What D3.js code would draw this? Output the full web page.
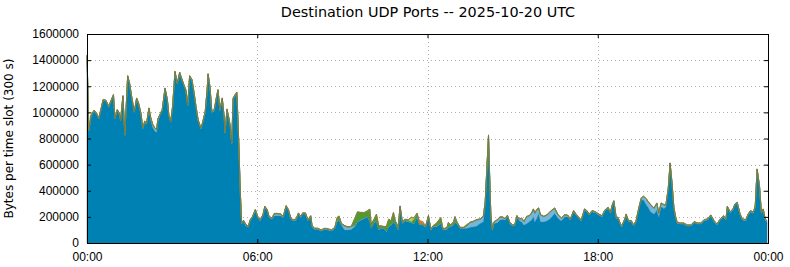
<!DOCTYPE html>
<html lang="en">
<head>
<meta charset="utf-8">
<title>Destination UDP Ports</title>
<script src="https://d3js.org/d3.v7.min.js"></script>
<style>
  body{margin:0;background:#fff;font-family:"DejaVu Sans",sans-serif;}
  .axis text{font-size:12px;fill:#000;}
  .grid line{stroke:#b0b0b0;stroke-dasharray:1,3;}
</style>
</head>
<body>
<div id="chart"></div>
<script>
// minutes after midnight (UTC) of each sample
var minutes = [0,4,9,15,20,25,30,34,40,46,50,56,59,64,68,71,76,80,86,90,95,100,105,109,114,118,122,126,131,135,139,143,147,150,154,159,165,170,173,177,181,186,191,196,200,205,209,213,217,222,226,230,235,
  241,245,250,254,256,260,264,269,274,277,281,286,290,292,296,300,303,306,309,314,317,321,324,327,331,336,341,345,350,356,361,366,372,376,381,385,391,396,403,410,415,421,426,431,436,442,447,452,456,462,467,
  473,476,481,488,495,503,510,517,524,529,533,538,545,552,559,566,572,580,587,593,598,601,607,612,617,622,628,633,638,643,648,652,658,662,667,672,679,686,691,698,703,
  711,716,722,727,732,739,748,753,761,764,769,775,778,783,789,796,803,810,817,824,831,838,842,849,851,854,857,861,868,873,879,884,889,894,900,905,909,914,919,924,930,935,940,944,
  947,951,955,959,966,973,980,989,996,1003,1010,1017,1022,1029,1034,1040,1045,1052,1057,1062,1068,1075,1082,1089,1095,1102,1107,1110,1114,1119,1123,1128,1131,1137,1140,1145,1151,1156,1161,1167,1172,1177,
  1183,1186,1192,1199,1205,1209,1214,1220,1224,1229,1233,1237,1241,1245,1248,1255,1262,1269,1277,1284,1291,1298,1305,1312,1319,1326,1332,1339,1346,1351,1354,1360,1366,1370,1375,1381,1386,1393,1398,1403,1409,1413,1417,1422,1426,1430,1434,1438];

// main port, kB per slot, one value per entry of minutes
var mainPort = [1430,860,975,1008,988,949,1026,1090,1085,1039,1077,1128,949,1013,988,936,1120,822,1273,1217,1102,1000,1102,1064,988,873,924,911,1026,936,886,860,847,931,975,1013,1179,1090,975,924,1039,1306,1217,1299,1255,1204,1166,1051,1273,1243,1153,1051,936,
  872,924,1000,1166,1288,1190,1000,1013,1115,1166,1013,1102,962,840,1018,949,886,758,1102,1128,1135,758,400,145,166,133,120,170,196,248,196,170,209,273,248,196,183,209,209,209,196,278,248,183,170,175,222,196,222,222,170,
  201,125,105,105,92,105,100,92,112,163,176,138,100,100,105,125,163,176,189,201,163,112,156,163,100,112,112,87,125,138,163,145,100,273,150,171,163,156,145,201,138,
  138,120,202,100,125,125,150,100,104,120,125,138,163,145,112,112,112,120,125,130,150,163,304,809,559,202,100,150,156,176,181,176,202,150,130,138,202,171,163,138,150,163,176,202,
  163,189,227,163,163,171,189,227,189,171,201,201,176,240,214,189,168,253,240,214,240,232,214,201,245,265,227,278,316,189,189,138,125,176,214,163,163,130,163,265,329,329,
  291,278,240,222,253,201,278,265,278,405,605,456,265,189,150,145,145,130,130,156,145,145,171,176,207,163,138,176,201,176,273,232,253,291,303,214,176,171,214,240,227,278,559,431,227,253,176,163];

// smaller ports: thin base band (kB) plus the [minute, kB] samples where they stand out
var lightBase = 5;
var lightPort = [[135,18],[139,20],[143,20],[147,20],[150,18],[396,14],[403,14],[410,10],[545,30],[552,20],[559,20],[566,10],
  [803,16],[810,36],[817,38],[824,46],[831,31],[838,38],[842,10],[849,15],[851,10],[854,10],[857,10],[861,10],[868,20],[873,20],[879,15],
  [884,8],[889,7],[914,8],[919,25],[924,25],[930,51],[935,43],[940,51],[944,56],[947,64],[951,64],[955,38],[959,51],[966,38],[973,43],
  [980,51],[989,38],[996,25],[1003,18],[1010,13],[1017,8],[1172,13],[1177,26],[1183,43],[1186,38],[1192,51],[1199,43],[1205,50],
  [1209,26],[1214,25],[1220,26],[1224,10],[1229,8]];

var greenBase = 2;
var greenPort = [[314,8],[317,14],[529,26],[533,25],[538,5],[566,50],[572,69],[580,51],[587,38],[593,39],[598,90],[601,26],[607,20],
  [612,51],[617,25],[622,13],[628,8],[633,33],[638,51],[643,25],[648,64],[652,18],[658,20],[662,5],[667,5],[672,5],[679,8],
  [691,31],[698,21],[739,20],[748,38],[761,8],[764,30],[769,8],[775,18],[778,33],[783,5],[803,10]];

var limeBase = 0;
var limePort = [[686,33],[691,10]];

var otherBase = 3;
var otherPort = [[703,30],[711,18]];

var yTicks = [0,200000,400000,600000,800000,1000000,1200000,1400000,1600000];

var W = 790, H = 267;
var margin = {left:87, right:22, top:34, bottom:24};
var w = W - margin.left - margin.right;
var h = H - margin.top - margin.bottom;

function lookup(pairs, base){
  var m = new Map(pairs);
  return function(t){ return m.has(t) ? m.get(t) : base };
}
var lightAt = lookup(lightPort, lightBase),
    greenAt = lookup(greenPort, greenBase),
    limeAt = lookup(limePort, limeBase),
    otherAt = lookup(otherPort, otherBase);

var day = Date.UTC(2025,9,20);
var data = minutes.map(function(m,i){
  return {t:new Date(day + m*60000), main:mainPort[i]*1000, light:lightAt(m)*1000,
          green:greenAt(m)*1000, lime:limeAt(m)*1000, other:otherAt(m)*1000};
});

var keys = ["main","light","green","lime","other"];
var fills = {main:"#0081b4", light:"#72b7dc", green:"#4f9b2b", lime:"#a5d75a", other:"#d6822c"};
var strokes = {main:"#2a6a84", light:"#5a9cc0", green:"#467f2c", lime:"#8cbc48", other:"#7a6a48"};

var svg = d3.select("#chart").append("svg").attr("width",W).attr("height",H);

svg.append("text").attr("x",428).attr("y",17).attr("text-anchor","middle")
   .style("font-size","14.4px").text("Destination UDP Ports -- 2025-10-20 UTC");

var g = svg.append("g").attr("transform","translate("+margin.left+","+margin.top+")");

var xScale = d3.scaleUtc().domain([new Date(day), new Date(day + 86400000)]).range([0,w]);
var yScale = d3.scaleLinear().domain([0,1600000]).range([h,0]);
var xTicks = d3.range(0,5).map(function(i){ return new Date(day + i*6*3600000) });

// grid behind the areas
g.append("g").attr("class","grid").selectAll("line").data(yTicks.slice(1,-1)).enter()
  .append("line").attr("x1",0).attr("x2",w).attr("y1",function(d){return Math.round(yScale(d))+0.5}).attr("y2",function(d){return Math.round(yScale(d))+0.5});
g.append("g").attr("class","grid").selectAll("line").data(xTicks.slice(1,-1)).enter()
  .append("line").attr("y1",0).attr("y2",h).attr("x1",function(d){return Math.round(xScale(d))+0.5}).attr("x2",function(d){return Math.round(xScale(d))+0.5});

var series = d3.stack().keys(keys)(data);
var area = d3.area()
  .x(function(d){ return xScale(d.data.t) })
  .y0(function(d){ return yScale(d[0]) })
  .y1(function(d){ return yScale(d[1]) });

g.selectAll("path.layer").data(series).enter().append("path")
  .attr("class","layer")
  .attr("d",area)
  .attr("fill",function(d){ return fills[d.key] })
  .attr("stroke",function(d){ return strokes[d.key] })
  .attr("stroke-width",0.5);

// axes, ticks pointing inward on all four sides
var fmt = d3.utcFormat("%H:%M");
g.append("g").attr("class","axis").attr("transform","translate(0,"+h+")")
  .call(d3.axisBottom(xScale).tickValues(xTicks).tickFormat(fmt).tickSizeInner(-4).tickSizeOuter(0).tickPadding(9));
g.append("g").attr("class","axis")
  .call(d3.axisTop(xScale).tickValues(xTicks).tickFormat("").tickSizeInner(-4).tickSizeOuter(0));
g.append("g").attr("class","axis")
  .call(d3.axisLeft(yScale).tickValues(yTicks).tickFormat(d3.format("d")).tickSizeInner(-4).tickSizeOuter(0).tickPadding(8));
g.append("g").attr("class","axis").attr("transform","translate("+w+",0)")
  .call(d3.axisRight(yScale).tickValues(yTicks).tickFormat("").tickSizeInner(-4).tickSizeOuter(0));
g.selectAll(".axis .domain").remove();
g.selectAll(".axis line").attr("stroke","#000");

g.append("rect").attr("x",0.5).attr("y",0.5).attr("width",w).attr("height",h)
  .attr("fill","none").attr("stroke","#000").attr("stroke-width",1);

svg.append("text").attr("transform","translate(13,"+(margin.top+h/2)+") rotate(-90)")
  .attr("text-anchor","middle").style("font-size","12px").text("Bytes per time slot (300 s)");
</script>
</body>
</html>
